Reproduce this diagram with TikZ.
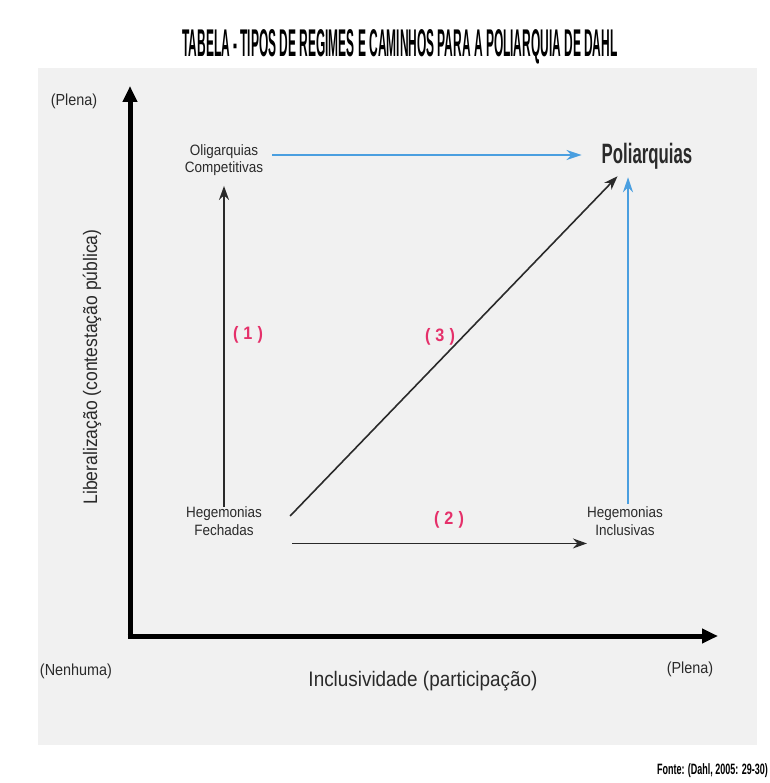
\documentclass[tikz,border=0pt]{standalone}
\usepackage{fontspec}
\setmainfont{Liberation Sans}[FakeStretch=0.9]
\newfontfamily\condfont{Liberation Sans}[FakeStretch=0.6]
\usepackage{xcolor}
\usepackage{graphicx}
\definecolor{PanelGray}{HTML}{F1F1F1}
\definecolor{PathBlue}{HTML}{4A9FE0}
\definecolor{StepRed}{HTML}{E5306A}
\definecolor{DarkGray}{HTML}{2A2A2A}
\usetikzlibrary{arrows.meta,positioning,calc}

\begin{document}
\begin{tikzpicture}[x=1pt,y=-1pt,>=Stealth,every node/.style={align=center, inner sep=0pt}, regime/.style={font=\fontsize{15}{17.5}\selectfont, text=DarkGray}, axislabel/.style={font=\fontsize{21}{25}\selectfont, text=DarkGray}, endlabel/.style={font=\fontsize{16}{18}\selectfont, text=DarkGray}, pathnum/.style={font=\fontsize{18}{21}\selectfont\bfseries, text=StepRed}, axis/.style={line width=5pt, -{Triangle[length=16pt,width=14pt]}}, route/.style={line width=1.6pt, DarkGray, -{Stealth[length=14pt,width=10pt]}}, blueroute/.style={line width=1.7pt, PathBlue, -{Stealth[length=15pt,width=10pt]}}]
        \useasboundingbox (0,0) rectangle (769,783);
        \fill[PanelGray] (38,68) rectangle (757,745);
        \node (titulo) at (400,47) {\resizebox{435pt}{27pt}{\condfont\bfseries TABELA - TIPOS DE REGIMES E CAMINHOS PARA A POLIARQUIA DE DAHL}};
        \coordinate (ybase) at (130,638.5);
        \coordinate (ytop) at (130,86);
        \coordinate (xbase) at (127.5,636);
        \coordinate (xend) at (718,636);
        \draw[axis] (ybase) -- (ytop);
        \draw[axis] (xbase) -- (xend);
        \node[endlabel] (plenay) at (74,101) {(Plena)};
        \node[axislabel, font=\fontsize{19.5}{24}\selectfont, rotate=90] (liberal) at (92,367) {Liberalização (contestação pública)};
        \node[endlabel] (nenhuma) at (76,671) {(Nenhuma)};
        \node[endlabel] (plenax) at (690,669) {(Plena)};
        \node[axislabel] (inclus) at (423,681) {Inclusividade (participação)};
        \node[regime] (oligarquias) at (224,160) {Oligarquias\\Competitivas};
        \node[font=\condfont\fontsize{28}{30}\selectfont\bfseries, text=DarkGray] (poliarquias) at (647,156) {Poliarquias};
        \node[regime] (fechadas) at (224,521) {Hegemonias\\Fechadas};
        \node[regime] (inclusivas) at (625,521) {Hegemonias\\Inclusivas};
        \draw[route, shorten >=10pt] (fechadas.north) -- (oligarquias.south);
        \draw[route] ([xshift=28pt,yshift=5pt]fechadas.east) -- ([xshift=16pt,yshift=-7pt]poliarquias.south west);
        \draw[route] ($(fechadas.south east)+(30,8)$) -- ($(fechadas.south east -| inclusivas.west)+(0,8)$);
        \draw[blueroute] ($(oligarquias.east)+(9,-5)$) -- ($(oligarquias.east -| poliarquias.west)+(-20,-5)$);
        \draw[blueroute] ($(inclusivas.north)+(3,-3)$) -- ($(inclusivas.north |- poliarquias.south)+(3,8)$);
        \node[pathnum] (num1) at (248,335) {(\;1\;)};
        \node[pathnum] (num3) at (440,337) {(\;3\;)};
        \node[pathnum] (num2) at (449,520) {(\;2\;)};
        \node[anchor=east, font=\condfont\bfseries\fontsize{15}{17}\selectfont] (fonte) at (768,771) {Fonte: (Dahl, 2005: 29-30)};
    \end{tikzpicture}
\end{document}
